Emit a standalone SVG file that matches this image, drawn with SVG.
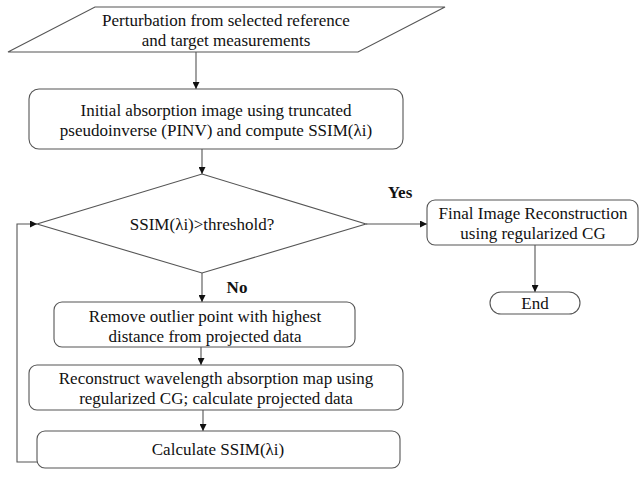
<svg xmlns="http://www.w3.org/2000/svg" width="639" height="477" viewBox="0 0 639 477">
<style>
.shape{fill:#fff;stroke:#555;stroke-width:1.1}
.t{font-family:"Liberation Serif","Times New Roman",serif;font-size:17px;fill:#111;text-anchor:middle;dominant-baseline:central}
.b{font-weight:bold}
.c{fill:none;stroke:#555;stroke-width:1.1}
</style>
<defs>
<marker id="ah" viewBox="0 0 10 10" refX="10" refY="5" markerWidth="7" markerHeight="7" markerUnits="userSpaceOnUse" orient="auto">
<path d="M0,0 L10,5 L0,10 z" fill="#111"/>
</marker>
</defs>
<rect width="639" height="477" fill="#fff"/>
<g id="connectors">
<line class="c" x1="196" y1="52" x2="196" y2="89" marker-end="url(#ah)"/>
<line class="c" x1="202" y1="149" x2="202" y2="174" marker-end="url(#ah)"/>
<line class="c" x1="366" y1="224" x2="427" y2="224" marker-end="url(#ah)"/>
<line class="c" x1="202" y1="273" x2="202" y2="302" marker-end="url(#ah)"/>
<line class="c" x1="201" y1="347" x2="201" y2="365" marker-end="url(#ah)"/>
<line class="c" x1="203" y1="410" x2="203" y2="431" marker-end="url(#ah)"/>
<line class="c" x1="535" y1="245" x2="535" y2="292" marker-end="url(#ah)"/>
<polyline class="c" points="37,462 17,462 17,224 37,224" marker-end="url(#ah)"/>
<text class="t b" x="400" y="192">Yes</text>
<text class="t b" x="237" y="287">No</text>
</g>
<g id="input">
<polygon class="shape" points="95,7 445,7 358,52 8,52"/>
<text class="t" x="226" y="20">Perturbation from selected reference</text>
<text class="t" x="226" y="40">and target measurements</text>
</g>
<g id="initial">
<rect class="shape" x="29" y="89" width="374" height="60" rx="10"/>
<text class="t" x="216" y="110">Initial absorption image using truncated</text>
<text class="t" x="216" y="130">pseudoinverse (PINV) and compute SSIM(λi)</text>
</g>
<g id="decision">
<polygon class="shape" points="202,174 366,224 202,273 37,224"/>
<text class="t" x="202" y="224">SSIM(λi)&gt;threshold?</text>
</g>
<g id="final">
<rect class="shape" x="427" y="200" width="211" height="45" rx="8"/>
<text class="t" x="533" y="213">Final Image Reconstruction</text>
<text class="t" x="533" y="233">using regularized CG</text>
</g>
<g id="end">
<rect class="shape" x="490" y="292" width="90" height="22" rx="11"/>
<text class="t" x="535" y="303">End</text>
</g>
<g id="remove">
<rect class="shape" x="54" y="302" width="301" height="45" rx="8"/>
<text class="t" x="205" y="316">Remove outlier point with highest</text>
<text class="t" x="205" y="336">distance from projected data</text>
</g>
<g id="reconstruct">
<rect class="shape" x="29" y="365" width="374" height="45" rx="8"/>
<text class="t" x="216" y="378">Reconstruct wavelength absorption map using</text>
<text class="t" x="216" y="398">regularized CG; calculate projected data</text>
</g>
<g id="calculate">
<rect class="shape" x="37" y="431" width="363" height="37" rx="8"/>
<text class="t" x="218" y="449">Calculate SSIM(λi)</text>
</g>
</svg>
